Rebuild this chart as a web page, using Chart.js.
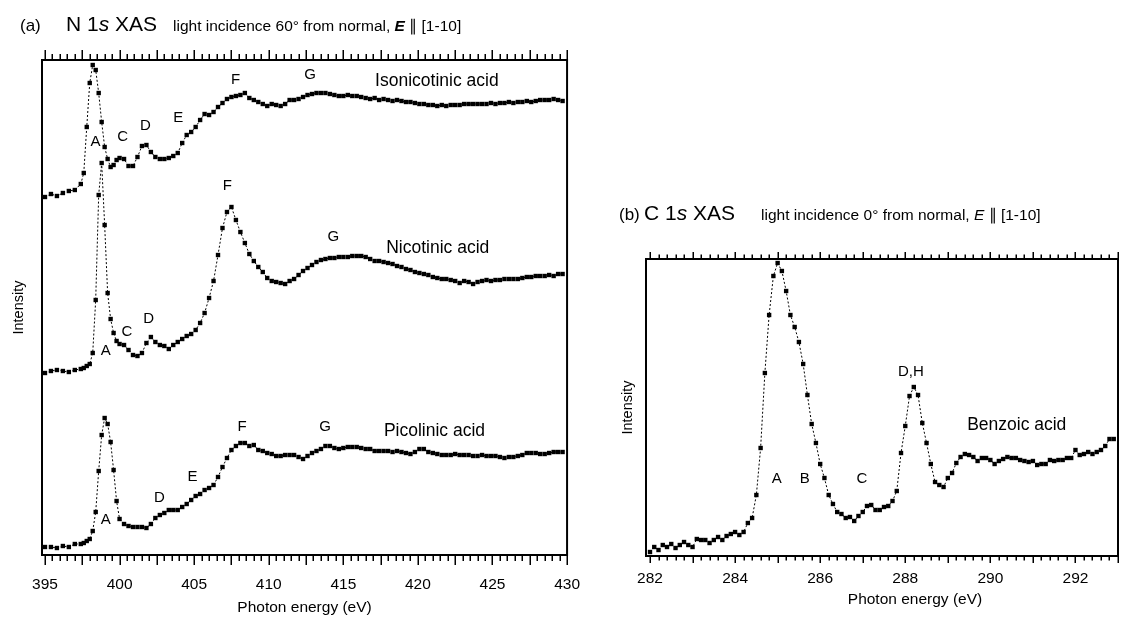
<!DOCTYPE html>
<html>
<head>
<meta charset="utf-8">
<script src="https://cdn.jsdelivr.net/npm/chart.js@4.4.1/dist/chart.umd.min.js"></script>
<style>
  body { margin: 0; background: #fff; font-family: "Liberation Sans", Arial, Helvetica, sans-serif; color: #000; }
  #page { position: relative; width: 1122px; height: 617px; overflow: hidden; }
  canvas { position: absolute; top: 0; }
  #chartA { left: 0; }
  #chartB { left: 600px; }
  .h { position: absolute; white-space: nowrap; line-height: 1; }
  .tag { font-size: 17px; }
  .core { font-size: 21px; }
  .note { font-size: 15.5px; }
  .xt { position: absolute; font-size: 15.5px; line-height: 1; white-space: nowrap; transform: translate(-50%, -50%); }
</style>
</head>
<body>
<div id="page">
  <canvas id="chartA" width="600" height="617"></canvas>
  <canvas id="chartB" width="522" height="617"></canvas>

  <span class="h tag" style="left:20px; top:16.6px;">(a)</span>
  <span class="h core" style="left:66px; top:13.2px;">N 1<i>s</i> XAS</span>
  <span class="h note" style="left:173px; top:17.9px;">light incidence 60° from normal, <b><i>E</i></b> ∥ [1-10]</span>

  <span class="h tag" style="left:619px; top:205.6px;">(b)</span>
  <span class="h core" style="left:644px; top:202.2px;">C 1<i>s</i> XAS</span>
  <span class="h note" style="left:761px; top:206.9px;">light incidence 0° from normal, <i>E</i> ∥ [1-10]</span>

  <div class="xt" style="left:915px; top:599px;">Photon energy (eV)</div>
</div>

<script>
var FONT = '"Liberation Sans", Arial, Helvetica, sans-serif';

// N 1s XAS, photon energy grid (eV), shared by the three pyridine acids
var energyA = [
  395.0, 395.4, 395.8, 396.2, 396.6, 397.0, 397.4,
  397.6, 397.8, 398.0, 398.2, 398.4, 398.6, 398.8, 399.0, 399.2, 399.4, 399.6, 399.8, 400.0,
  400.3, 400.6, 400.9, 401.2, 401.5, 401.8, 402.1, 402.4, 402.7, 403.0,
  403.3, 403.6, 403.9, 404.2, 404.5, 404.8, 405.1, 405.4, 405.7, 406.0,
  406.3, 406.6, 406.9, 407.2, 407.5, 407.8, 408.1, 408.4, 408.7, 409.0,
  409.3, 409.6, 409.9, 410.2, 410.5, 410.8, 411.1, 411.4, 411.7, 412.0,
  412.3, 412.6, 412.9, 413.2, 413.5, 413.8, 414.1, 414.4, 414.7, 415.0,
  415.3, 415.6, 415.9, 416.2, 416.5, 416.8, 417.1, 417.4, 417.7, 418.0,
  418.3, 418.6, 418.9, 419.2, 419.5, 419.8, 420.1, 420.4, 420.7, 421.0,
  421.3, 421.6, 421.9, 422.2, 422.5, 422.8, 423.1, 423.4, 423.7, 424.0,
  424.3, 424.6, 424.9, 425.2, 425.5, 425.8, 426.1, 426.4, 426.7, 427.0,
  427.3, 427.6, 427.9, 428.2, 428.5, 428.8, 429.1, 429.4, 429.7
];

// intensities (arb. units, curves offset vertically)
var isonicotinic = [
  3.58, 3.61, 3.59, 3.62, 3.64, 3.65, 3.71,
  3.82, 4.28, 4.72, 4.90, 4.85, 4.62, 4.33, 4.08, 3.96, 3.88, 3.90, 3.95, 3.97,
  3.96, 3.89, 3.89, 3.98, 4.09, 4.10, 4.03, 3.98, 3.96, 3.96,
  3.97, 3.99, 4.02, 4.12, 4.20, 4.23, 4.28, 4.35, 4.41, 4.40,
  4.43, 4.48, 4.52, 4.56, 4.58, 4.59, 4.60, 4.62, 4.57, 4.55,
  4.53, 4.51, 4.49, 4.51, 4.50, 4.49, 4.51, 4.55, 4.55, 4.56,
  4.58, 4.60, 4.61, 4.62, 4.62, 4.62, 4.61, 4.60, 4.59, 4.59,
  4.60, 4.59, 4.59, 4.58, 4.57, 4.56, 4.57, 4.55, 4.56, 4.55,
  4.54, 4.55, 4.54, 4.53, 4.53, 4.52, 4.51, 4.51, 4.50, 4.50,
  4.49, 4.50, 4.49, 4.50, 4.50, 4.50, 4.51, 4.51, 4.51, 4.51,
  4.51, 4.51, 4.52, 4.51, 4.52, 4.52, 4.53, 4.52, 4.53, 4.53,
  4.54, 4.53, 4.54, 4.55, 4.55, 4.55, 4.56, 4.55, 4.54
];

var nicotinic = [
  1.82, 1.84, 1.85, 1.84, 1.83, 1.85, 1.86,
  1.87, 1.89, 1.91, 2.02, 2.55, 3.60, 3.92, 3.30, 2.62, 2.36, 2.22, 2.14, 2.11,
  2.10, 2.05, 2.00, 1.99, 2.02, 2.12, 2.18, 2.13, 2.10, 2.09,
  2.06, 2.10, 2.13, 2.16, 2.19, 2.21, 2.25, 2.32, 2.42, 2.57,
  2.74, 3.00, 3.27, 3.43, 3.48, 3.35, 3.23, 3.12, 3.01, 2.94,
  2.88, 2.83, 2.77, 2.74, 2.73, 2.72, 2.71, 2.74, 2.76, 2.80,
  2.84, 2.87, 2.90, 2.93, 2.95, 2.96, 2.97, 2.97, 2.98, 2.98,
  2.98, 2.99, 2.99, 2.99, 2.98, 2.96, 2.94, 2.94, 2.93, 2.92,
  2.91, 2.89, 2.88, 2.86, 2.85, 2.83, 2.82, 2.81, 2.80, 2.78,
  2.77, 2.76, 2.76, 2.75, 2.74, 2.72, 2.74, 2.73, 2.71, 2.73,
  2.74, 2.75, 2.74, 2.75, 2.75, 2.76, 2.76, 2.76, 2.76, 2.77,
  2.78, 2.78, 2.79, 2.79, 2.79, 2.80, 2.79, 2.81, 2.81
];

var picolinic = [
  0.08, 0.08, 0.07, 0.09, 0.08, 0.11, 0.11,
  0.12, 0.14, 0.16, 0.24, 0.43, 0.84, 1.20, 1.37, 1.31, 1.13, 0.85, 0.54, 0.36,
  0.31, 0.29, 0.28, 0.28, 0.28, 0.27, 0.31, 0.37, 0.40, 0.42,
  0.45, 0.45, 0.45, 0.48, 0.51, 0.55, 0.59, 0.61, 0.65, 0.67,
  0.70, 0.78, 0.88, 0.97, 1.05, 1.09, 1.12, 1.12, 1.09, 1.10,
  1.05, 1.04, 1.02, 1.01, 0.99, 0.99, 1.00, 1.00, 1.00, 0.98,
  0.96, 0.99, 1.02, 1.04, 1.06, 1.09, 1.09, 1.07, 1.06, 1.07,
  1.08, 1.08, 1.08, 1.07, 1.06, 1.06, 1.04, 1.04, 1.04, 1.04,
  1.03, 1.04, 1.03, 1.02, 1.01, 1.03, 1.06, 1.06, 1.03, 1.02,
  1.01, 1.00, 1.00, 1.00, 1.01, 1.00, 1.00, 1.00, 0.99, 0.99,
  1.00, 0.99, 0.99, 0.99, 0.98, 0.97, 0.98, 0.98, 0.99, 1.00,
  1.02, 1.02, 1.02, 1.01, 1.01, 1.02, 1.03, 1.03, 1.03
];

var tickLabelsA = [395, 400, 405, 410, 415, 420, 425, 430];

// C 1s XAS of benzoic acid
var energyB = [
  282.0, 282.1, 282.2, 282.3, 282.4, 282.5, 282.6, 282.7, 282.8, 282.9,
  283.0, 283.1, 283.2, 283.3, 283.4, 283.5, 283.6, 283.7, 283.8, 283.9,
  284.0, 284.1, 284.2, 284.3, 284.4, 284.5, 284.6, 284.7, 284.8, 284.9,
  285.0, 285.1, 285.2, 285.3, 285.4, 285.5, 285.6, 285.7, 285.8, 285.9,
  286.0, 286.1, 286.2, 286.3, 286.4, 286.5, 286.6, 286.7, 286.8, 286.9,
  287.0, 287.1, 287.2, 287.3, 287.4, 287.5, 287.6, 287.7, 287.8, 287.9,
  288.0, 288.1, 288.2, 288.3, 288.4, 288.5, 288.6, 288.7, 288.8, 288.9,
  289.0, 289.1, 289.2, 289.3, 289.4, 289.5, 289.6, 289.7, 289.8, 289.9,
  290.0, 290.1, 290.2, 290.3, 290.4, 290.5, 290.6, 290.7, 290.8, 290.9,
  291.0, 291.1, 291.2, 291.3, 291.4, 291.5, 291.6, 291.7, 291.8, 291.9,
  292.0, 292.1, 292.2, 292.3, 292.4, 292.5, 292.6, 292.7, 292.8, 292.9
];

var benzoic = [
  0.04, 0.09, 0.06, 0.11, 0.09, 0.12, 0.08, 0.11, 0.14, 0.11,
  0.09, 0.17, 0.16, 0.16, 0.13, 0.16, 0.19, 0.16, 0.20, 0.22,
  0.24, 0.21, 0.24, 0.33, 0.38, 0.61, 1.08, 1.83, 2.41, 2.80,
  2.93, 2.85, 2.65, 2.41, 2.29, 2.14, 1.92, 1.61, 1.32, 1.13,
  0.92, 0.78, 0.61, 0.52, 0.44, 0.42, 0.38, 0.39, 0.35, 0.40,
  0.44, 0.50, 0.51, 0.46, 0.46, 0.49, 0.50, 0.55, 0.65, 1.03,
  1.30, 1.60, 1.69, 1.61, 1.33, 1.13, 0.92, 0.74, 0.71, 0.69,
  0.78, 0.83, 0.93, 0.99, 1.02, 1.01, 0.99, 0.95, 0.98, 0.98,
  0.96, 0.92, 0.95, 0.97, 0.99, 0.98, 0.98, 0.96, 0.95, 0.94,
  0.95, 0.91, 0.92, 0.92, 0.96, 0.95, 0.96, 0.96, 0.98, 0.98,
  1.06, 1.01, 1.02, 1.04, 1.02, 1.04, 1.06, 1.10, 1.17, 1.17
];

var tickLabelsB = [282, 284, 286, 288, 290, 292];

// peak letters and sample names, placed in data units (energy, intensity)
var peaksA = [
  { x: 398.38, y: 4.13, t: 'A' }, { x: 400.20, y: 4.18, t: 'C' }, { x: 401.73, y: 4.29, t: 'D' },
  { x: 403.93, y: 4.37, t: 'E' }, { x: 407.78, y: 4.75, t: 'F' }, { x: 412.78, y: 4.80, t: 'G' },
  { x: 399.07, y: 2.04, t: 'A' }, { x: 400.49, y: 2.23, t: 'C' }, { x: 401.95, y: 2.36, t: 'D' },
  { x: 407.22, y: 3.69, t: 'F' }, { x: 414.33, y: 3.18, t: 'G' },
  { x: 399.07, y: 0.35, t: 'A' }, { x: 402.67, y: 0.57, t: 'D' }, { x: 404.89, y: 0.78, t: 'E' },
  { x: 408.22, y: 1.28, t: 'F' }, { x: 413.78, y: 1.28, t: 'G' }
];
var namesA = [
  { x: 421.27, y: 4.74, t: 'Isonicotinic acid' },
  { x: 421.33, y: 3.07, t: 'Nicotinic acid' },
  { x: 421.11, y: 1.24, t: 'Picolinic acid' }
];
var peaksB = [
  { x: 284.98, y: 0.77, t: 'A' }, { x: 285.64, y: 0.77, t: 'B' },
  { x: 286.98, y: 0.77, t: 'C' }, { x: 288.13, y: 1.84, t: 'D,H' }
];
var namesB = [{ x: 290.62, y: 1.31, t: 'Benzoic acid' }];

// box around the plot with outward ticks on top and bottom
var framePlugin = {
  id: 'frame',
  afterDraw: function (chart, args, opts) {
    var ctx = chart.ctx, a = chart.chartArea, x = chart.scales.x;
    ctx.save();
    ctx.strokeStyle = '#000';
    ctx.lineWidth = 2;
    ctx.strokeRect(a.left, a.top, a.right - a.left, a.bottom - a.top);
    ctx.lineWidth = 1.5;
    var n = Math.round((opts.last - opts.first) / opts.minor);
    ctx.beginPath();
    for (var i = 0; i <= n; i++) {
      var v = opts.first + i * opts.minor;
      var r = v / opts.major;
      var len = Math.abs(r - Math.round(r)) < 1e-6 ? opts.majorLen : opts.minorLen;
      var px = Math.round(x.getPixelForValue(v)) + 0.25;
      ctx.moveTo(px, a.top - 1 - len);
      ctx.lineTo(px, a.top);
      ctx.moveTo(px, a.bottom);
      ctx.lineTo(px, a.bottom + 1 + len);
    }
    ctx.stroke();
    ctx.restore();
  }
};

var labelPlugin = {
  id: 'peakLabels',
  afterDatasetsDraw: function (chart, args, opts) {
    var ctx = chart.ctx, x = chart.scales.x, y = chart.scales.y;
    ctx.save();
    ctx.fillStyle = '#000';
    ctx.textAlign = 'center';
    ctx.textBaseline = 'middle';
    ctx.font = '15px ' + FONT;
    opts.peaks.forEach(function (p) {
      ctx.fillText(p.t, x.getPixelForValue(p.x), y.getPixelForValue(p.y));
    });
    ctx.font = '17.5px ' + FONT;
    opts.names.forEach(function (p) {
      ctx.fillText(p.t, x.getPixelForValue(p.x), y.getPixelForValue(p.y));
    });
    ctx.restore();
  }
};

function spectrum(energies, values) {
  return {
    data: energies.map(function (e, i) { return { x: e, y: values[i] }; }),
    borderColor: '#000',
    borderWidth: 1,
    borderDash: [2, 2],
    pointStyle: 'rect',
    pointRadius: 3.1,
    pointBackgroundColor: '#000',
    pointBorderWidth: 0,
    tension: 0,
    fill: false
  };
}

function makeChart(id, c) {
  return new Chart(document.getElementById(id), {
    type: 'line',
    data: { datasets: c.datasets },
    plugins: [framePlugin, labelPlugin],
    options: {
      responsive: false,
      animation: false,
      devicePixelRatio: 1,
      layout: { padding: c.padding },
      plugins: {
        legend: { display: false },
        tooltip: { enabled: false },
        frame: c.frame,
        peakLabels: { peaks: c.peaks, names: c.names }
      },
      scales: {
        x: {
          type: 'linear',
          min: c.xmin,
          max: c.xmax,
          afterBuildTicks: function (s) { s.ticks = c.tickLabels.map(function (v) { return { value: v }; }); },
          ticks: { color: '#000', font: { family: FONT, size: 15.5 }, padding: c.tickPad, maxRotation: 0, autoSkip: false },
          grid: { display: false, drawTicks: false },
          border: { display: false },
          title: {
            display: c.xTitle,
            text: 'Photon energy (eV)',
            color: '#000',
            font: { family: FONT, size: 15.5 },
            padding: { top: 0, bottom: 0 }
          },
          afterFit: function (s) { s.height = c.xHeight; }
        },
        y: {
          min: 0,
          max: c.ymax,
          ticks: { display: false },
          grid: { display: false, drawTicks: false },
          border: { display: false },
          title: {
            display: true,
            text: 'Intensity',
            color: '#000',
            font: { family: FONT, size: 14.5 },
            padding: { top: c.yTitlePad, bottom: 0 }
          },
          afterFit: function (s) { s.width = c.yWidth; }
        }
      }
    }
  });
}

makeChart('chartA', {
  datasets: [
    spectrum(energyA, isonicotinic),
    spectrum(energyA, nicotinic),
    spectrum(energyA, picolinic)
  ],
  padding: { left: 0, top: 60, right: 30, bottom: 0 },
  xmin: 394.8, xmax: 430, ymax: 4.95,
  tickLabels: tickLabelsA, tickPad: 20, xTitle: true,
  xHeight: 62, yWidth: 42, yTitlePad: 10,
  frame: { first: 395, last: 430, minor: 0.5, major: 2.5, majorLen: 9, minorLen: 5 },
  peaks: peaksA, names: namesA
});

makeChart('chartB', {
  datasets: [spectrum(energyB, benzoic)],
  padding: { left: 0, top: 259, right: 1, bottom: 0 },
  xmin: 281.906, xmax: 293, ymax: 2.97,
  tickLabels: tickLabelsB, tickPad: 13, xTitle: false,
  xHeight: 61, yWidth: 46, yTitlePad: 19,
  frame: { first: 282, last: 293, minor: 0.2, major: 1, majorLen: 6, minorLen: 3.5 },
  peaks: peaksB, names: namesB
});
</script>
</body>
</html>
